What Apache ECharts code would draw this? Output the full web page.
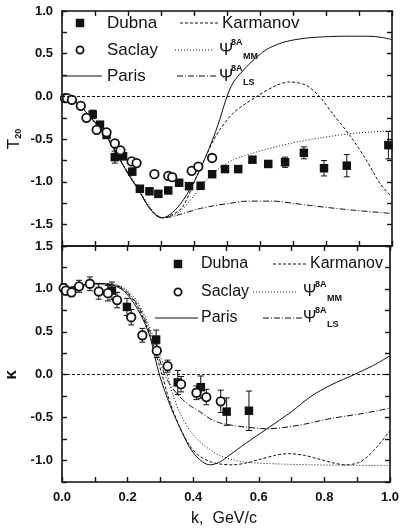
<!DOCTYPE html>
<html><head><meta charset="utf-8">
<script src="https://cdn.jsdelivr.net/npm/echarts@6/dist/echarts.min.js"></script>
<style>html,body{margin:0;padding:0;background:#fff}#c{width:402px;height:528px}</style>
</head><body><div id="c"></div>
<script>
// ---- Top panel (T20) : [k, value, error] ----
const dubnaT20 = [[0.093,-0.21,0.05],[0.115,-0.33,0.03],[0.135,-0.45,0.03],[0.16,-0.71,0.07],[0.185,-0.70,0.04],[0.213,-0.88,0.04],[0.236,-1.08,0.03],[0.265,-1.11,0.03],[0.292,-1.14,0.03],[0.322,-1.10,0.03],[0.355,-1.01,0.03],[0.385,-1.05,0.03],[0.42,-1.045,0.03],[0.455,-0.91,0.03],[0.494,-0.85,0.03],[0.534,-0.85,0.03],[0.577,-0.74,0.03],[0.625,-0.79,0.04],[0.676,-0.77,0.06],[0.733,-0.66,0.07],[0.794,-0.84,0.09],[0.863,-0.81,0.13],[0.989,-0.57,0.16]];
const saclayT20 = [[0.009,-0.02,0.02],[0.015,-0.02,0.02],[0.03,-0.04,0.02],[0.057,-0.11,0.02],[0.074,-0.25,0.02],[0.105,-0.39,0.02],[0.135,-0.42,0.02],[0.16,-0.55,0.02],[0.177,-0.63,0.02],[0.211,-0.76,0.02],[0.226,-0.78,0.02],[0.28,-0.91,0.02],[0.322,-0.93,0.02],[0.334,-0.945,0.02],[0.393,-0.87,0.02],[0.413,-0.82,0.02],[0.455,-0.72,0.02]];
const parisT20 = [[0,0],[0.025,-0.02],[0.05,-0.09],[0.09,-0.26],[0.14,-0.5],[0.18,-0.77],[0.206,-0.94],[0.236,-1.12],[0.262,-1.29],[0.285,-1.39],[0.3,-1.42],[0.32,-1.40],[0.35,-1.30],[0.378,-1.15],[0.413,-0.9],[0.454,-0.53],[0.478,-0.27],[0.5,0.0],[0.52,0.17],[0.56,0.35],[0.59,0.46],[0.62,0.55],[0.66,0.62],[0.7,0.66],[0.76,0.69],[0.86,0.705],[0.93,0.705],[0.97,0.69],[1.0,0.665]];
const karmanovT20 = [[0,0],[0.025,-0.02],[0.05,-0.09],[0.09,-0.26],[0.14,-0.5],[0.18,-0.77],[0.206,-0.94],[0.236,-1.12],[0.262,-1.29],[0.285,-1.39],[0.305,-1.42],[0.325,-1.40],[0.364,-1.30],[0.41,-0.92],[0.458,-0.52],[0.48,-0.38],[0.52,-0.19],[0.59,0.0],[0.65,0.13],[0.69,0.17],[0.74,0.13],[0.78,0.0],[0.82,-0.2],[0.873,-0.46],[0.92,-0.73],[0.964,-1.02],[1.0,-1.18]];
const mmT20 = [[0,0],[0.025,-0.02],[0.05,-0.09],[0.09,-0.26],[0.14,-0.5],[0.18,-0.76],[0.206,-0.92],[0.236,-1.10],[0.262,-1.27],[0.285,-1.38],[0.305,-1.42],[0.33,-1.40],[0.36,-1.34],[0.40,-1.16],[0.44,-0.97],[0.48,-0.83],[0.52,-0.74],[0.59,-0.65],[0.69,-0.55],[0.79,-0.48],[0.89,-0.43],[1.0,-0.40]];
const lsT20 = [[0,0],[0.025,-0.02],[0.05,-0.09],[0.09,-0.26],[0.14,-0.5],[0.18,-0.77],[0.206,-0.94],[0.236,-1.12],[0.262,-1.29],[0.285,-1.39],[0.305,-1.42],[0.33,-1.41],[0.358,-1.38],[0.41,-1.32],[0.458,-1.28],[0.51,-1.25],[0.56,-1.225],[0.64,-1.225],[0.7,-1.25],[0.76,-1.28],[0.88,-1.33],[1.0,-1.37]];

// ---- Bottom panel (kappa) : [k, value, error] ----
const dubnaKappa = [[0.152,0.98,0.1],[0.198,0.79,0.1],[0.287,0.41,0.11],[0.353,-0.09,0.14],[0.423,-0.145,0.13],[0.502,-0.43,0.16],[0.57,-0.42,0.23]];
const saclayKappa = [[0.005,1.01,0.05],[0.012,0.98,0.05],[0.029,0.96,0.05],[0.052,1.03,0.07],[0.085,1.06,0.08],[0.112,0.97,0.09],[0.14,0.95,0.09],[0.168,0.87,0.09],[0.211,0.67,0.09],[0.245,0.46,0.08],[0.289,0.28,0.08],[0.322,0.10,0.07],[0.363,-0.11,0.09],[0.41,-0.21,0.08],[0.44,-0.26,0.09],[0.484,-0.31,0.13]];
const parisKappa = [[0,1.0],[0.05,1.04],[0.1,1.065],[0.15,1.05],[0.18,1.0],[0.2,0.93],[0.225,0.8],[0.25,0.62],[0.27,0.42],[0.297,0.0],[0.33,-0.36],[0.36,-0.62],[0.39,-0.85],[0.42,-0.99],[0.45,-1.05],[0.48,-1.02],[0.51,-0.94],[0.56,-0.8],[0.625,-0.63],[0.7,-0.43],[0.76,-0.25],[0.82,-0.12],[0.89,0.0],[0.95,0.11],[1.0,0.22]];
const karmanovKappa = [[0,1.0],[0.05,1.03],[0.1,1.06],[0.15,1.05],[0.18,1.01],[0.2,0.95],[0.23,0.8],[0.26,0.55],[0.28,0.33],[0.305,0.0],[0.33,-0.33],[0.36,-0.62],[0.39,-0.83],[0.42,-0.95],[0.45,-1.01],[0.48,-1.04],[0.52,-1.05],[0.56,-1.03],[0.6,-0.99],[0.65,-0.94],[0.69,-0.92],[0.74,-0.94],[0.78,-0.98],[0.83,-1.03],[0.865,-1.05],[0.9,-1.03],[0.93,-0.96],[0.965,-0.82],[1.0,-0.65]];
const mmKappa = [[0,1.0],[0.05,1.03],[0.1,1.06],[0.15,1.06],[0.18,1.03],[0.2,0.98],[0.23,0.85],[0.26,0.62],[0.29,0.32],[0.32,0.0],[0.34,-0.25],[0.36,-0.45],[0.39,-0.65],[0.42,-0.78],[0.45,-0.87],[0.48,-0.94],[0.52,-0.99],[0.56,-1.02],[0.66,-1.04],[0.76,-1.05],[0.88,-1.055],[1.0,-1.06]];
const lsKappa = [[0,1.0],[0.05,1.03],[0.1,1.06],[0.15,1.05],[0.18,1.02],[0.2,0.96],[0.23,0.82],[0.26,0.58],[0.29,0.27],[0.31,0.03],[0.33,-0.12],[0.36,-0.26],[0.39,-0.36],[0.42,-0.43],[0.45,-0.51],[0.48,-0.56],[0.52,-0.59],[0.56,-0.61],[0.625,-0.63],[0.72,-0.59],[0.82,-0.51],[0.92,-0.45],[1.0,-0.39]];

const INK = '#111111';
const chart = echarts.init(document.getElementById('c'), null, {renderer:'canvas'});

function fmtStep(step){ return v => (Math.abs(v/step - Math.round(v/step)) < 1e-6) ? v.toFixed(1) : ''; }
function xAx(grid, pos, labels){
  return {type:'value', gridIndex:grid, position:pos, min:0, max:1, interval:0.1,
    axisLine:{show:true, onZero:false, lineStyle:{color:INK, width:1.6}},
    axisTick:{show:true, inside:true, length:5, lineStyle:{color:INK, width:1.4}},
    axisLabel:{show:labels, formatter:fmtStep(0.2), color:INK, fontFamily:'Liberation Sans', fontWeight:'bold', fontSize:13, margin:9, showMinLabel:true, showMaxLabel:true},
    splitLine:{show:false}};
}
function yAx(grid, pos, min, max, labels){
  return {type:'value', gridIndex:grid, position:pos, min:min, max:max, interval:0.25,
    axisLine:{show:true, onZero:false, lineStyle:{color:INK, width:1.6}},
    axisTick:{show:true, inside:true, length:5, lineStyle:{color:INK, width:1.4}},
    axisLabel:{show:labels, formatter:fmtStep(0.5), color:INK, fontFamily:'Liberation Sans', fontWeight:'bold', fontSize:13, margin:9, showMinLabel:true, showMaxLabel:true},
    splitLine:{show:false}};
}
function curve(name, data, xi, type, zero){
  const s = {name, type:'line', xAxisIndex:xi, yAxisIndex:xi, data, smooth:0.3, showSymbol:false, symbol:'none', silent:true,
    lineStyle:{color:INK, width:1, type}, z:2};
  if (zero) s.markLine = {silent:true, symbol:'none', label:{show:false}, lineStyle:{color:INK, width:1, type:[3,2]}, data:[{yAxis:0}]};
  return s;
}
function errBars(data, xi){
  return {type:'custom', xAxisIndex:xi, yAxisIndex:xi, silent:true, z:3,
    data: data.map(d => [d[0], d[1]-d[2], d[1]+d[2]]),
    encode:{x:0, y:[1,2]},
    renderItem(params, api){
      const x = api.value(0);
      const lo = api.coord([x, api.value(1)]), hi = api.coord([x, api.value(2)]);
      const w = 3, st = {stroke:INK, lineWidth:1};
      return {type:'group', children:[
        {type:'line', shape:{x1:lo[0], y1:lo[1], x2:hi[0], y2:hi[1]}, style:st},
        {type:'line', shape:{x1:lo[0]-w, y1:lo[1], x2:lo[0]+w, y2:lo[1]}, style:st},
        {type:'line', shape:{x1:hi[0]-w, y1:hi[1], x2:hi[0]+w, y2:hi[1]}, style:st}
      ]};
    }};
}
function points(name, data, xi, filled){
  return {name, type:'scatter', xAxisIndex:xi, yAxisIndex:xi, silent:true, z:4,
    data: data.map(d => [d[0], d[1]]),
    symbol: filled ? 'rect' : 'circle', symbolSize: filled ? 8.5 : 8.5,
    itemStyle: filled ? {color:INK, opacity:1} : {color:'#fff', borderColor:INK, borderWidth:1.8, opacity:1}};
}

// legend (graphic) helpers
const FONT = 'Liberation Sans';
function txt(x, y, s, size){ return {type:'text', x, y, silent:true, style:{text:s, fill:INK, font:`${size}px "${FONT}"`, verticalAlign:'middle', align:'left'}}; }
function seg(x1, x2, y, dash){
  const st = {stroke:INK, lineWidth:1};
  if (dash) st.lineDash = dash;
  return {type:'line', silent:true, shape:{x1, y1:y, x2, y2:y}, style:st};
}
function psi(x, y, sub, size){
  return [txt(x, y, 'Ψ', size), {type:'text', x:x+12, y:y-7, silent:true, style:{text:'8A', fill:INK, font:`bold 9px "${FONT}"`, verticalAlign:'middle'}},
          {type:'text', x:x+24, y:y+7, silent:true, style:{text:sub, fill:INK, font:`bold 9px "${FONT}"`, verticalAlign:'middle'}}];
}
function legendBlock(o){
  const fs = o.fs;
  return [
    {type:'rect', silent:true, shape:{x:o.sx-4.25, y:o.y1-4.25, width:8.5, height:8.5}, style:{fill:INK}},
    txt(o.tx, o.y1, 'Dubna', fs),
    {type:'circle', silent:true, shape:{cx:o.sx, cy:o.y2, r:3.6}, style:{fill:'#fff', stroke:INK, lineWidth:1.8}},
    txt(o.tx, o.y2, 'Saclay', fs),
    seg(o.px1, o.px2, o.y3, null),
    txt(o.tx, o.y3, 'Paris', fs),
    seg(o.kx1, o.kx2, o.y1, [3,2]),
    txt(o.ktx, o.y1, 'Karmanov', fs),
    seg(o.mx1, o.mx2, o.y2, [1,2]),
    ...psi(o.psx, o.y2, 'MM', fs),
    seg(o.lx1, o.lx2, o.y3, [6,2,1,2]),
    ...psi(o.psx, o.y3, 'LS', fs)
  ];
}

const option = {
  animation:false,
  backgroundColor:'#fff',
  grid:[{left:62, top:11, width:330, height:235}, {left:62, top:246, width:330, height:236}],
  xAxis:[xAx(0,'bottom',false), xAx(1,'bottom',true), xAx(0,'top',false), xAx(1,'top',false)],
  yAxis:[yAx(0,'left',-1.75,1.0,true), yAx(1,'left',-1.25,1.5,true), yAx(0,'right',-1.75,1.0,false), yAx(1,'right',-1.25,1.5,false)],
  series:[
    curve('Paris', parisT20, 0, 'solid', true),
    curve('Karmanov', karmanovT20, 0, [3,2]),
    curve('MM', mmT20, 0, [1,2]),
    curve('LS', lsT20, 0, [6,2,1,2]),
    errBars(dubnaT20, 0),
    errBars(saclayT20, 0),
    points('Dubna', dubnaT20, 0, true),
    points('Saclay', saclayT20, 0, false),
    curve('Paris', parisKappa, 1, 'solid', true),
    curve('Karmanov', karmanovKappa, 1, [3,2]),
    curve('MM', mmKappa, 1, [1,2]),
    curve('LS', lsKappa, 1, [6,2,1,2]),
    errBars(dubnaKappa, 1),
    errBars(saclayKappa, 1),
    points('Dubna', dubnaKappa, 1, true),
    points('Saclay', saclayKappa, 1, false)
  ],
  graphic:{elements:[
    ...legendBlock({fs:17, sx:80, tx:107, y1:23, y2:50, y3:76, px1:62, px2:102, kx1:180, kx2:218, ktx:222, mx1:175, mx2:213, lx1:177, lx2:218, psx:219}),
    ...legendBlock({fs:16, sx:178, tx:201, y1:264, y2:292, y3:318, px1:155, px2:198, kx1:273, kx2:308, ktx:310, mx1:253, mx2:298, lx1:263, lx2:302, psx:303}),
    {type:'text', x:14, y:139, rotation:Math.PI/2, silent:true,
      style:{text:'{t|T}{s|20}', align:'center', verticalAlign:'middle', fill:INK,
        rich:{t:{font:`17px "${FONT}"`, fill:INK, lineHeight:18}, s:{font:`bold 9px "${FONT}"`, fill:INK, verticalAlign:'bottom', lineHeight:9, padding:[8,0,0,0]}}}},
    {type:'text', x:11, y:375, rotation:Math.PI/2, silent:true,
      style:{text:'κ', align:'center', verticalAlign:'middle', fill:INK, font:`bold 17px "${FONT}"`}},
    {type:'text', x:224, y:519, silent:true,
      style:{text:'k,  GeV/c', align:'center', verticalAlign:'middle', fill:INK, font:`16px "${FONT}"`}}
  ]}
};
chart.setOption(option);
</script>
</body></html>
